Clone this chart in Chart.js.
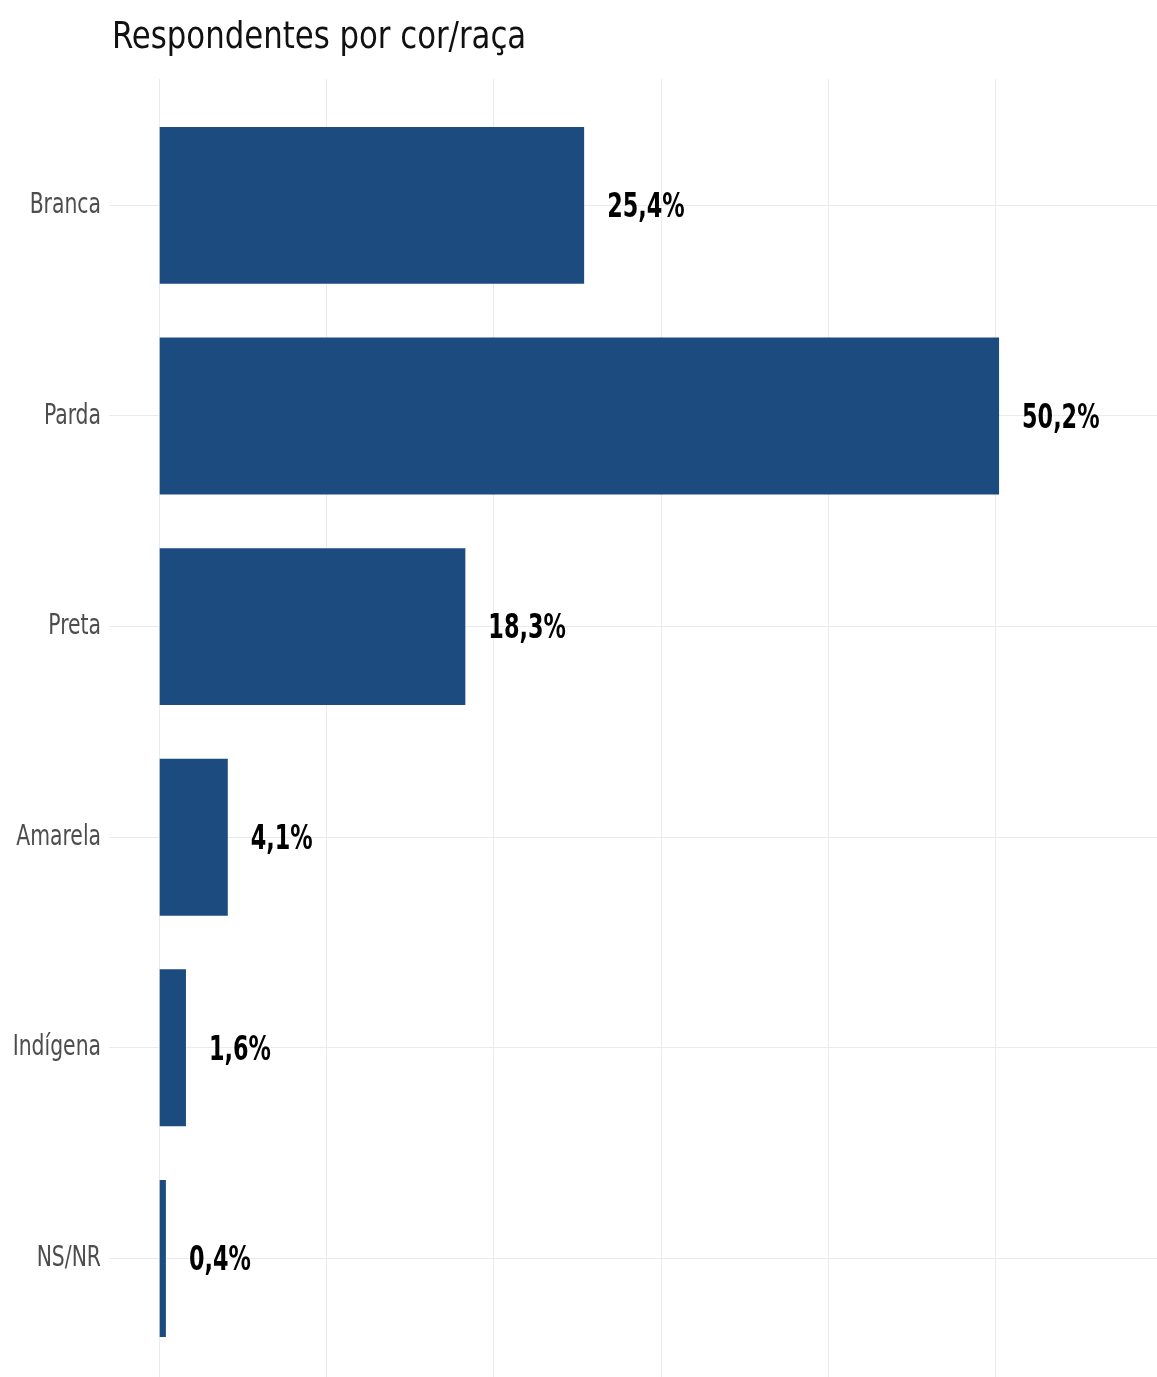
<!DOCTYPE html>
<html lang="pt-BR">
<head>
<meta charset="utf-8">
<title>Respondentes por cor/raça</title>
<script src="https://cdn.jsdelivr.net/npm/chart.js@4.4.1/dist/chart.umd.min.js"></script>
<style>
  html, body { margin: 0; padding: 0; background: #fff; }
  canvas { display: block; }
</style>
</head>
<body>
<canvas id="racaChart" width="1157" height="1377"></canvas>
<script>
// Categories and shares (%) of respondents
const categories = ['Branca', 'Parda', 'Preta', 'Amarela', 'Indígena', 'NS/NR'];
const shares = [25.4, 50.2, 18.3, 4.1, 1.6, 0.4];
const gridTicks = [0, 10, 20, 30, 40, 50];
const chartTitle = 'Respondentes por cor/raça';

const narrow = "'DejaVu Sans Condensed', 'Liberation Sans Narrow', 'DejaVu Sans', sans-serif";

// fillText squeezed horizontally, to get a tighter condensed face
function narrowText(ctx, text, x, y, sx) {
    ctx.save();
    ctx.translate(x, y);
    ctx.scale(sx, 1);
    ctx.fillText(text, 0, 0);
    ctx.restore();
}

// Title, category names and value labels
const textPlugin = {
    id: 'narrowText',
    afterDatasetsDraw(chart) {
        const ctx = chart.ctx;
        const yScale = chart.scales.y;
        const meta = chart.getDatasetMeta(0);
        ctx.save();

        ctx.font = '38px ' + narrow;
        ctx.fillStyle = '#111';
        ctx.textAlign = 'left';
        ctx.textBaseline = 'alphabetic';
        narrowText(ctx, chartTitle, 112, 48, 0.9);

        ctx.font = '29px ' + narrow;
        ctx.fillStyle = '#4d4d4d';
        ctx.textAlign = 'right';
        ctx.textBaseline = 'middle';
        categories.forEach((c, i) => {
            narrowText(ctx, c, yScale.left + yScale.width - 8, yScale.getPixelForValue(i), 0.78);
        });

        ctx.font = 'bold 34px ' + narrow;
        ctx.fillStyle = '#000';
        ctx.textAlign = 'left';
        meta.data.forEach((bar, i) => {
            const txt = shares[i].toFixed(1).replace('.', ',') + '%';
            narrowText(ctx, txt, bar.x + 23, bar.y + 3, 0.73);
        });
        ctx.restore();
    }
};

new Chart(document.getElementById('racaChart'), {
    type: 'bar',
    data: {
        datasets: [{
            data: shares.map((v, i) => ({ x: v, y: i })),
            backgroundColor: '#1c4b80',
            borderWidth: 0,
            barPercentage: 0.745,
            categoryPercentage: 1
        }]
    },
    options: {
        indexAxis: 'y',
        responsive: false,
        animation: false,
        layout: { padding: { top: 79, right: 0, bottom: 0, left: 0 } },
        plugins: {
            legend: { display: false },
            tooltip: { enabled: false },
            title: { display: false }
        },
        scales: {
            x: {
                type: 'linear',
                position: 'bottom',
                min: -3,
                max: 59.64,
                afterBuildTicks: (scale) => {
                    scale.ticks = gridTicks.map(v => ({ value: v }));
                },
                afterFit: (scale) => {
                    scale.height = 0;
                    scale.paddingLeft = scale.paddingRight = 0;
                },
                ticks: { display: false },
                grid: { color: '#ebebeb', lineWidth: 1, drawTicks: false },
                border: { display: false }
            },
            y: {
                type: 'linear',
                reverse: true,
                offset: false,
                min: -0.6,
                max: 5.563,
                afterBuildTicks: (scale) => {
                    scale.ticks = categories.map((c, i) => ({ value: i }));
                },
                afterFit: (scale) => {
                    scale.width = 109;
                    scale.paddingTop = scale.paddingBottom = 0;
                },
                ticks: { display: false },
                grid: { color: '#ebebeb', lineWidth: 1, drawTicks: false, offset: false },
                border: { display: false }
            }
        }
    },
    plugins: [textPlugin]
});
</script>
</body>
</html>
